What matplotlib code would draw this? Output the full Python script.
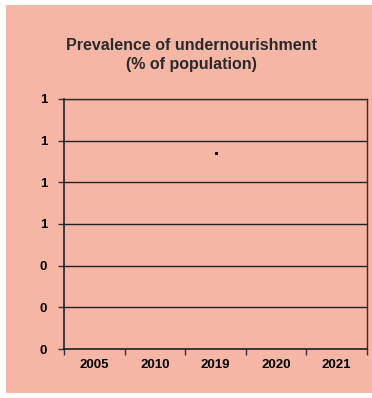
import matplotlib
matplotlib.use("Agg")
import matplotlib.pyplot as plt
import numpy as np

categories = ["2005", "2010", "2019", "2020", "2021"]
values = [np.nan, np.nan, 0.94, np.nan, np.nan]
yticks = [0, 0.2, 0.4, 0.6, 0.8, 1.0, 1.2]
ytick_labels = ["0", "0", "0", "1", "1", "1", "1"]
title = "Prevalence of undernourishment\n(% of population)"

bg = "#F6B6A6"
plt.rcParams['font.family'] = ['Liberation Sans', 'DejaVu Sans']

fig = plt.figure(figsize=(3.72, 3.98), dpi=100)
fig.patches.append(plt.Rectangle((6/372, 5/398), 366/372, 388/398,
                                 transform=fig.transFigure, facecolor=bg,
                                 edgecolor='none', zorder=-10))
ax = fig.add_axes([64/372, 1-349/398, 303/372, 250/398])
ax.set_facecolor(bg)

x = np.arange(len(categories))
ax.plot(x, values, marker='s', markersize=1.2, color='black', linestyle='none')

ax.set_xlim(-0.5, len(categories) - 0.5)
ax.set_ylim(0, 1.2)
ax.set_yticks(yticks)
ax.set_yticklabels(ytick_labels, fontsize=9.5, fontweight='bold')
ax.set_xticks(np.arange(-0.5, len(categories) + 0.5, 1.0))
ax.set_xticklabels([""] * (len(categories) + 1))
ax.set_xticks(x, minor=True)
ax.set_xticklabels(categories, minor=True, fontsize=9.5, fontweight='bold')
ax.tick_params(axis='x', which='minor', length=0, pad=7)
ax.tick_params(axis='x', which='major', length=4, width=1, color='#333333')
ax.tick_params(axis='y', length=4, width=1, color='#333333', pad=8)

ax.grid(axis='y', color='#222222', linewidth=1.0)
ax.set_axisbelow(True)
for s in ['left', 'bottom']:
    ax.spines[s].set_color('#222222')
    ax.spines[s].set_linewidth(1.2)
for s in ['top', 'right']:
    ax.spines[s].set_color('#3a2a28')
    ax.spines[s].set_linewidth(1.0)

fig.text(0.515, 1 - 55/398, title, ha='center', va='center', fontsize=11.5,
         fontweight='bold', color='#2a2a2a', linespacing=1.3)

fig.savefig("out.png", dpi=100)
